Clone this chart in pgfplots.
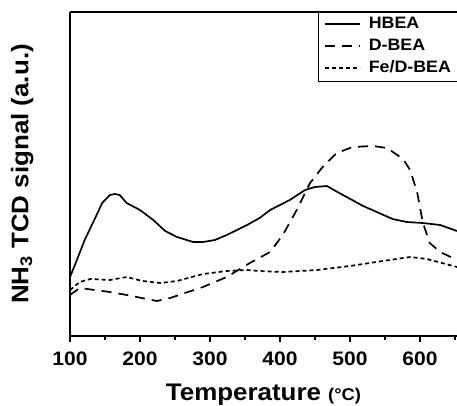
\documentclass[border=0pt]{standalone}
\usepackage{fontspec}
\setmainfont{Liberation Sans}[FakeStretch=1.08]
\usepackage{pgfplots}
\pgfplotsset{compat=1.18}
\begin{document}
\begin{tikzpicture}
\begin{axis}[
  at={(0,0)}, anchor=south west,
  scale only axis, width=387pt, height=324pt,
  xmin=100, xmax=653, ymin=0, ymax=324,
  axis x line*=bottom, axis y line*=left,
  axis line style={-, line width=1.2pt},
  xtick={100,200,300,400,500,600},
  minor xtick={150,250,350,450,550,650},
  ytick=\empty,
  tick align=outside,
  major tick length=6pt, minor tick length=4pt,
  every tick/.style={black, line width=1.2pt},
  xticklabel style={font=\fontsize{19.5}{22}\selectfont\bfseries, yshift=-6pt},
  /pgf/number format/assume math mode=true,
  xlabel={\fontsize{24}{26}\selectfont\bfseries Temperature {\fontsize{17}{19}\selectfont(°C)}},
  xlabel style={yshift=-12pt},
  ylabel={\fontsize{24}{26}\selectfont\bfseries NH\textsubscript{3} TCD signal (a.u.)},
  ylabel style={yshift=27pt},
  clip=false,
  legend style={at={(1.003,1)}, anchor=north east, draw=black,
    font=\fontsize{16.5}{18}\selectfont\bfseries, row sep=3.5pt, column sep=6pt,
    inner xsep=5pt, inner ysep=3pt,
    nodes={inner sep=2pt, text height=11.5pt, text depth=3pt}},
  legend cell align=left,
  legend image code/.code={\draw[#1, line width=2.2pt] (0pt,0.5pt) -- (35pt,0.5pt);},
]
\addplot[black, line width=1.7pt] coordinates {
(100,59) (107,71) (121,96) (136,118) (146,133) (157,141) (164,142) (171,141)
(181,133) (200,126) (219,116) (236,105) (253,99) (276,94) (290,94) (307,96)
(324,101) (353,111) (371,118) (386,126) (414,136) (436,146) (450,149) (467,150)
(490,141) (519,130) (561,117) (581,114) (604,113) (629,111) (653,105)};
\addlegendentry{HBEA}
\addplot[black, line width=1.7pt, dash pattern=on 10pt off 7pt] coordinates {
(100,41) (114,48) (157,44) (181,41) (224,35) (243,38) (290,49) (324,59)
(357,73) (386,84) (404,101) (424,126) (443,153) (461,169) (481,183) (504,189)
(533,190) (553,188) (576,177) (586,166) (596,144) (604,114) (614,93) (629,84) (653,76)};
\addlegendentry{D-BEA}
\addplot[black, line width=1.7pt, dash pattern=on 4pt off 3pt] coordinates {
(100,46) (114,54) (129,57) (157,56) (181,59) (204,55) (229,53) (253,55)
(290,62) (324,65) (353,66) (371,65) (404,64) (453,66) (500,70) (547,75)
(586,79) (610,77) (653,69)};
\addlegendentry{Fe/D-BEA}
\draw[line width=1.2pt] (rel axis cs:0,1) -- (rel axis cs:1,1);
\end{axis}
\pgfresetboundingbox
\path (-70pt,-69pt) rectangle (387pt,336pt);
\end{tikzpicture}
\end{document}
